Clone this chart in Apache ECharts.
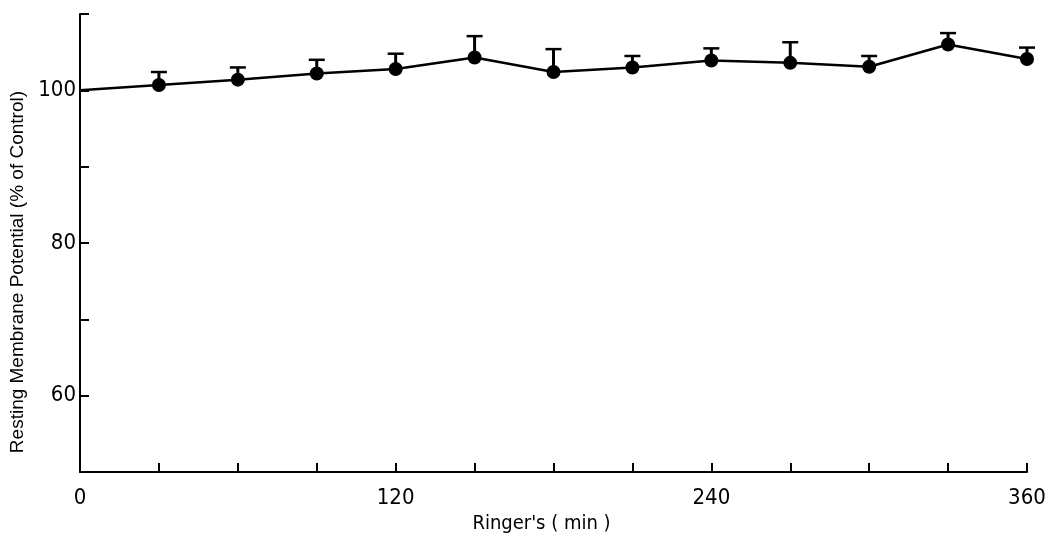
<!DOCTYPE html>
<html>
<head>
<meta charset="utf-8">
<script src="https://cdn.jsdelivr.net/npm/echarts@6/dist/echarts.min.js"></script>
<style>
html,body{margin:0;padding:0;background:#fff;}
#chart{width:1051px;height:539px;}
</style>
</head>
<body>
<div id="chart"></div>
<script>
// Data
const times = [0, 30, 60, 90, 120, 150, 180, 210, 240, 270, 300, 330, 360];
const means = [100, 100.7, 101.4, 102.2, 102.8, 104.3, 102.4, 103.0, 103.9, 103.6, 103.1, 106.0, 104.1];
const upper = [null, 102.4, 103.0, 104.0, 104.8, 107.1, 105.4, 104.5, 105.5, 106.3, 104.5, 107.5, 105.6];
const xTickLabels = [0, 120, 240, 360];
const yTickLabels = [60, 80, 100];

const chart = echarts.init(document.getElementById('chart'), null, {renderer: 'canvas'});

const lineData = times.map((t, i) => i === 0
  ? {value: [t, means[i]], symbol: 'none'}
  : {value: [t, means[i]]});
const errData = [];
times.forEach((t, i) => { if (upper[i] != null) errData.push([t, means[i], upper[i]]); });

const labelFont = '"DejaVu Sans Condensed", "Liberation Sans Narrow", "DejaVu Sans", sans-serif';

chart.setOption({
  animation: false,
  backgroundColor: '#ffffff',
  grid: {left: 80, right: 24, top: 14, bottom: 60, containLabel: false},
  xAxis: {
    type: 'value', min: 0, max: 360, interval: 30,
    name: "Ringer's ( min )", nameLocation: 'middle', nameGap: 36,
    nameTextStyle: {color: '#000', fontSize: 20, fontFamily: labelFont, padding: [0, 24, 0, 0]},
    axisLine: {lineStyle: {color: '#000', width: 2}},
    axisTick: {inside: true, length: 9, lineStyle: {color: '#000', width: 2}},
    axisLabel: {
      color: '#000', fontSize: 22, fontFamily: labelFont, margin: 15,
      formatter: v => xTickLabels.includes(v) ? String(v) : ''
    },
    splitLine: {show: false}
  },
  yAxis: {
    type: 'value', min: 50, max: 110, interval: 10,
    name: 'Resting Membrane Potential (% of Control)', nameLocation: 'middle', nameGap: 50,
    nameTextStyle: {color: '#000', fontSize: 19, fontFamily: '"Liberation Sans", Arial, sans-serif', padding: [0, 58, 0, 0]},
    axisLine: {lineStyle: {color: '#000', width: 2}},
    axisTick: {inside: true, length: 9, lineStyle: {color: '#000', width: 2}},
    axisLabel: {
      color: '#000', fontSize: 22, fontFamily: labelFont, margin: 4,
      formatter: v => yTickLabels.includes(v) ? String(v) : ''
    },
    splitLine: {show: false}
  },
  series: [
    {
      type: 'custom',
      data: errData,
      z: 3,
      renderItem: function (params, api) {
        const x = api.value(0);
        const p0 = api.coord([x, api.value(1)]);
        const p1 = api.coord([x, api.value(2)]);
        const hw = 8;
        return {
          type: 'group',
          children: [
            {type: 'line', shape: {x1: p0[0], y1: p0[1], x2: p1[0], y2: p1[1]},
             style: {stroke: '#000', lineWidth: 3}},
            {type: 'line', shape: {x1: p1[0] - hw, y1: p1[1], x2: p1[0] + hw, y2: p1[1]},
             style: {stroke: '#000', lineWidth: 2.5}}
          ]
        };
      }
    },
    {
      type: 'line',
      data: lineData,
      z: 4,
      symbol: 'circle',
      symbolSize: 14,
      showAllSymbol: true,
      itemStyle: {color: '#000'},
      lineStyle: {color: '#000', width: 2.5}
    }
  ]
});
</script>
</body>
</html>
